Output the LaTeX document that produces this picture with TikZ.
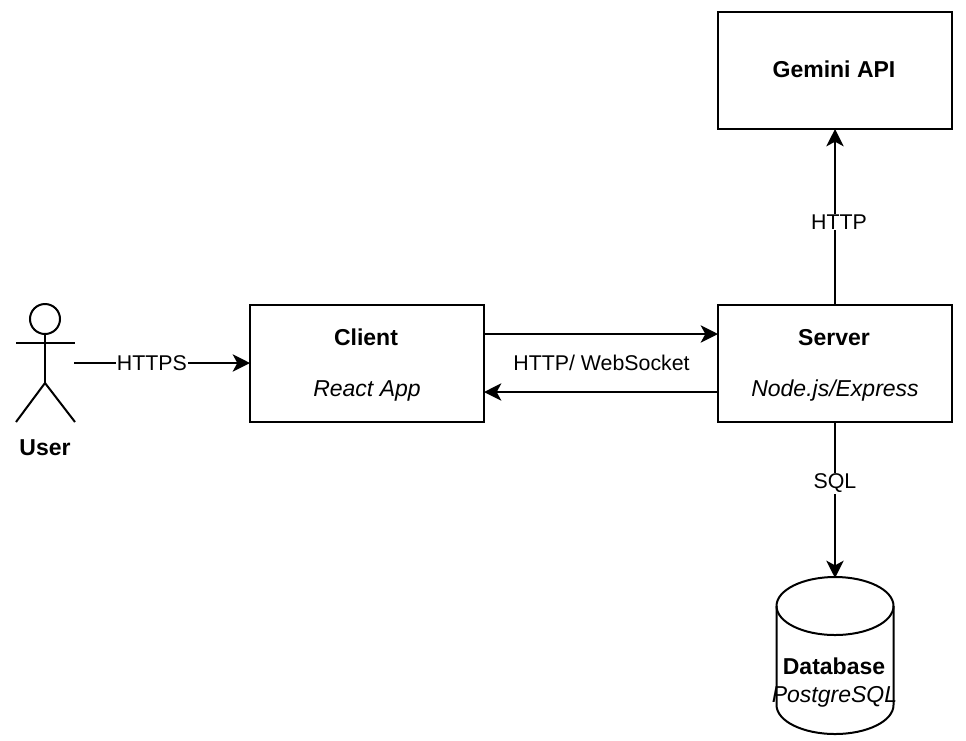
\documentclass[tikz,border=0pt]{standalone}
\usepackage{fontspec}
\setmainfont{Liberation Sans}
\usetikzlibrary{arrows.meta}
\tikzset{
  box/.style={rectangle,draw=black,line width=1.5pt,minimum width=175.5pt,minimum height=87.75pt,inner sep=0pt},
  link/.style={draw=black,line width=1.5pt,shorten >=-.75pt,-{Stealth[length=13pt,width=13pt,inset=3.5pt]}},
  wire/.style={draw=black,line width=1.5pt},
  tag/.style={fill=white,inner sep=.5pt,font=\fontsize{16}{18}\selectfont},
  title/.style={anchor=base,inner sep=0pt,font=\bfseries\fontsize{17.25}{20}\selectfont},
  subtitle/.style={anchor=base,inner sep=0pt,font=\itshape\fontsize{17.25}{20}\selectfont},
}
\begin{document}
\begin{tikzpicture}[x=.75pt,y=-.75pt]
    \useasboundingbox (0,0) rectangle (966,740);

    % boxes
    \node[box] (gemini) at (835,70.5) {};
    \node[box] (client) at (367,363) {};
    \node[box] (server) at (835,363) {};
    \node[title] (geminititle) at (834,77) {Gemini API};
    \node[title] (clienttitle) at (366,345) {Client};
    \node[subtitle] (clientsub) at (367,396) {React App};
    \node[title] (servertitle) at (834,345) {Server};
    \node[subtitle] (serversub) at (835,396) {Node.js/Express};

    % user
    \coordinate (neck) at (45,334);
    \coordinate (hip) at (45,383);
    \draw[wire] (45,319) circle (15);
    \draw[wire] (neck) -- (hip);
    \draw[wire] (16,343) -- (75,343);
    \draw[wire] (16,422) -- (hip) -- (75,422);
    \node[title] (user) at (45,455) {User};
    \coordinate (userout) at (74,363);

    % database
    \coordinate (dbleft) at (776.5,606);
    \coordinate (dbright) at (893.5,606);
    \draw[wire] (dbleft) -- (776.5,705) arc[start angle=180,end angle=0,x radius=58.5,y radius=29] -- (dbright);
    \draw[wire] (835,606) ellipse (58.5 and 29);
    \coordinate (dbtop) at (835,577);
    \node[title] (dbname) at (834,674) {Database};
    \node[subtitle] (dbsub) at (834.5,702) {PostgreSQL};

    % connectors
    \draw[link] (userout) -- (client.west) node[tag,pos=.445] (https) {HTTPS};
    \draw[link] (client.east |- 0,334) -- (server.west |- 0,334);
    \draw[link] (server.west |- 0,392) -- (client.east |- 0,392);
    \node[font=\fontsize{16}{18}\selectfont,inner sep=0pt] (socket) at (601.5,363) {HTTP/ WebSocket};
    \draw[link] (server.north) -- (gemini.south) node[tag,pos=.47,xshift=3pt] (http) {HTTP};
    \draw[link] (server.south) -- (dbtop) node[tag,pos=.395] (sql) {SQL};
\end{tikzpicture}
\end{document}
